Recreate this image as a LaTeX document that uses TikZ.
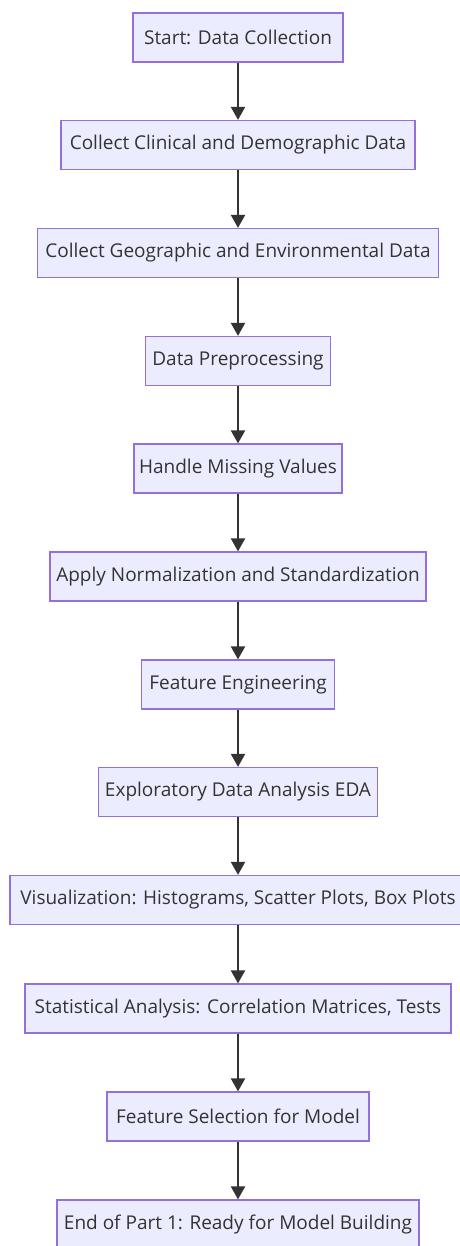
\documentclass[tikz,border=0pt]{standalone}
\usepackage{fontspec}
\setmainfont{Open Sans}
\usetikzlibrary{arrows.meta, positioning}
\definecolor{boxfill}{HTML}{ECECFF}
\definecolor{boxline}{HTML}{9370DB}
\definecolor{inkgray}{HTML}{333333}
\tikzset{
  stepbox/.style={draw=boxline, fill=boxfill, line width=1.2pt, text=inkgray,
    minimum height=49pt, inner sep=0pt, font=\fontsize{19}{22}\selectfont},
  flowarrow/.style={-{Triangle[length=13pt, width=14pt]}, draw=inkgray, line width=2pt}
}
\begin{document}
\begin{tikzpicture}[x=1pt, y=-1pt]
            \useasboundingbox (0,0) rectangle (459,1246);
            % collecte
            \node[stepbox, minimum width=210pt] (start) at (238,37.5) {Start: Data Collection};
            \node[stepbox, minimum width=354pt] (clinical) at (238,145) {Collect Clinical and Demographic Data};
            \node[stepbox, minimum width=401pt] (geo) at (238,253) {Collect Geographic and Environmental Data};
            % pretraitement
            \node[stepbox, minimum width=185pt] (prep) at (238,361) {Data Preprocessing};
            \node[stepbox, minimum width=208pt] (missing) at (238,468.5) {Handle Missing Values};
            \node[stepbox, minimum width=376pt] (norm) at (238,576.5) {Apply Normalization and Standardization};
            \node[stepbox, minimum width=193pt] (feateng) at (238,684.5) {Feature Engineering};
            % analyse exploratoire
            \node[stepbox, minimum width=279pt] (eda) at (238,792) {Exploratory Data Analysis EDA};
            \node[stepbox, minimum width=456pt] (viz) at (238,900) {Visualization: Histograms, Scatter Plots, Box Plots};
            \node[stepbox, minimum width=426pt] (stats) at (238,1008.5) {Statistical Analysis: Correlation Matrices, Tests};
            \node[stepbox, minimum width=262pt] (featsel) at (238,1116.5) {Feature Selection for Model};
            \node[stepbox, minimum width=362pt] (finish) at (238,1224.5) {End of Part 1: Ready for Model Building};
            % fleches
            \draw[flowarrow] (start) -- (clinical);
            \draw[flowarrow] (clinical) -- (geo);
            \draw[flowarrow] (geo) -- (prep);
            \draw[flowarrow] (prep) -- (missing);
            \draw[flowarrow] (missing) -- (norm);
            \draw[flowarrow] (norm) -- (feateng);
            \draw[flowarrow] (feateng) -- (eda);
            \draw[flowarrow] (eda) -- (viz);
            \draw[flowarrow] (viz) -- (stats);
            \draw[flowarrow] (stats) -- (featsel);
            \draw[flowarrow] (featsel) -- (finish);
        \end{tikzpicture}
\end{document}
